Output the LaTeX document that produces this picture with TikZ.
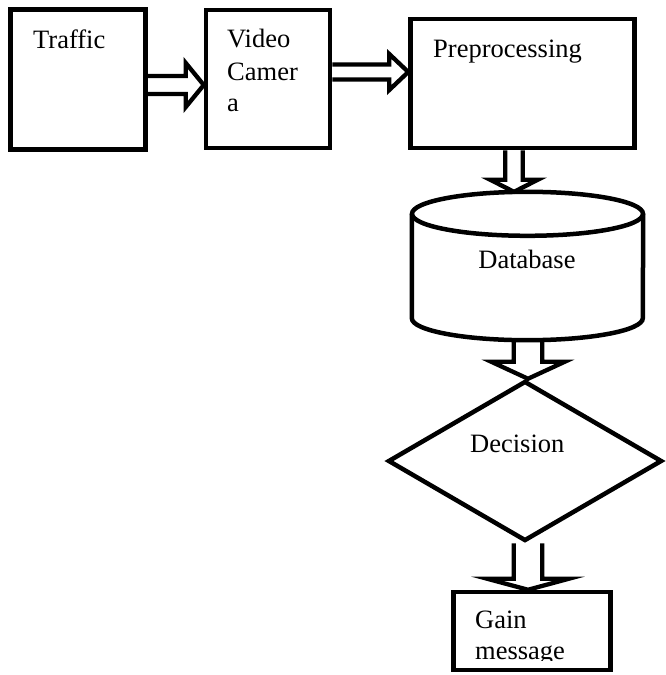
\documentclass[tikz,border=0pt]{standalone}
\usepackage{fontspec}
\setmainfont{Liberation Serif}
\usetikzlibrary{calc,shapes.geometric}

\tikzset{
    boxline/.style = {draw, line width = 4.5pt, inner sep = 0pt},
    labeltext/.style = {inner sep = 0pt, font = \fontsize{26.5}{32}\selectfont, anchor = base west},
    arrowline/.style = {line width = 4.3pt, line join = miter},
}

% hollow block arrow: tail, tip, half shaft, half head, head length
\newcommand\fatarrow[5]{%
    \coordinate (hb) at ($(#2)!#5!(#1)$);
    \draw [arrowline] ($(#1)!#3!90:(#2)$) -- ($(hb)!#3!-90:(#1)$) -- ($(hb)!#4!-90:(#1)$) -- (#2)
        -- ($(hb)!#4!90:(#1)$) -- ($(hb)!#3!90:(#1)$) -- ($(#1)!#3!-90:(#2)$);
}

\begin{document}
\begin{tikzpicture}[x = 1pt, y = -1pt]
    \useasboundingbox (0, 0) rectangle (665, 675);

    % top row
    \node [boxline, minimum width = 135pt, minimum height = 140pt] (traffic) at (78, 79.5) {};
    \node [labeltext] (traffictext) at (33, 48) {Traffic};

    \node [boxline, minimum width = 124pt, minimum height = 138pt] (camera) at (268, 79) {};
    \node [labeltext] (cameratext1) at (227, 47) {Video};
    \node [labeltext] (cameratext2) at (227, 80) {Camer};
    \node [labeltext] (cameratext3) at (227, 111) {a};

    \node [boxline, minimum width = 224pt, minimum height = 129pt] (prep) at (522.5, 83.5) {};
    \node [labeltext] (preptext) at (433, 57) {Preprocessing};

    % database
    \node [inner sep = 0pt, minimum width = 231pt, minimum height = 148pt] (db) at (527.5, 266) {};
    \draw [boxline] ($(db.north west)+(0, 22)$) -- ($(db.south west)+(0, -22)$)
        arc [start angle = 180, end angle = 360, x radius = 115.5pt, y radius = 22pt]
        -- ($(db.north east)+(0, 22)$);
    \draw [boxline] ($(db.north)+(0, 22)$) ellipse [x radius = 115.5pt, y radius = 22pt];
    \node [labeltext, anchor = base] (dbtext) at (527, 268) {Database};

    % decision
    \node [boxline, diamond, minimum width = 274pt, minimum height = 160pt] (dec) at (525, 461) {};
    \node [labeltext] (dectext) at (470, 452) {Decision};

    % output
    \node [boxline, minimum width = 157pt, minimum height = 78pt] (gain) at (532, 631) {};
    \begin{scope}
        \clip (gain.north west) rectangle ($(gain.south east)+(0, -12)$);
        \node [labeltext] (gaintext1) at (475, 628) {Gain};
        \node [labeltext] (gaintext2) at (475, 659) {message};
    \end{scope}

    % arrows
    \coordinate (a1) at ($(traffic.east)+(0, 5.5)$);
    \coordinate (a1t) at (a1 -| camera.west);
    \fatarrow{a1}{a1t}{9pt}{22pt}{18pt}

    \coordinate (a2) at ($(camera.east)+(0, -7)$);
    \coordinate (a2t) at (a2 -| prep.west);
    \fatarrow{a2}{a2t}{7.5pt}{18pt}{19pt}

    \coordinate (a3) at ($(prep.south)+(-8.5, 0)$);
    \coordinate (a3t) at (a3 |- db.north);
    \fatarrow{a3}{a3t}{8.75pt}{23.75pt}{12pt}

    \coordinate (a4) at ($(db.south)+(0.5, 0)$);
    \coordinate (a4t) at (a4 |- dec.north);
    \fatarrow{a4}{a4t}{14.25pt}{36.75pt}{17pt}

    \coordinate (a5) at ($(dec.south)+(3, 0)$);
    \coordinate (a5t) at (a5 |- gain.north);
    \fatarrow{a5}{a5t}{14.25pt}{40.75pt}{11pt}
\end{tikzpicture}
\end{document}
